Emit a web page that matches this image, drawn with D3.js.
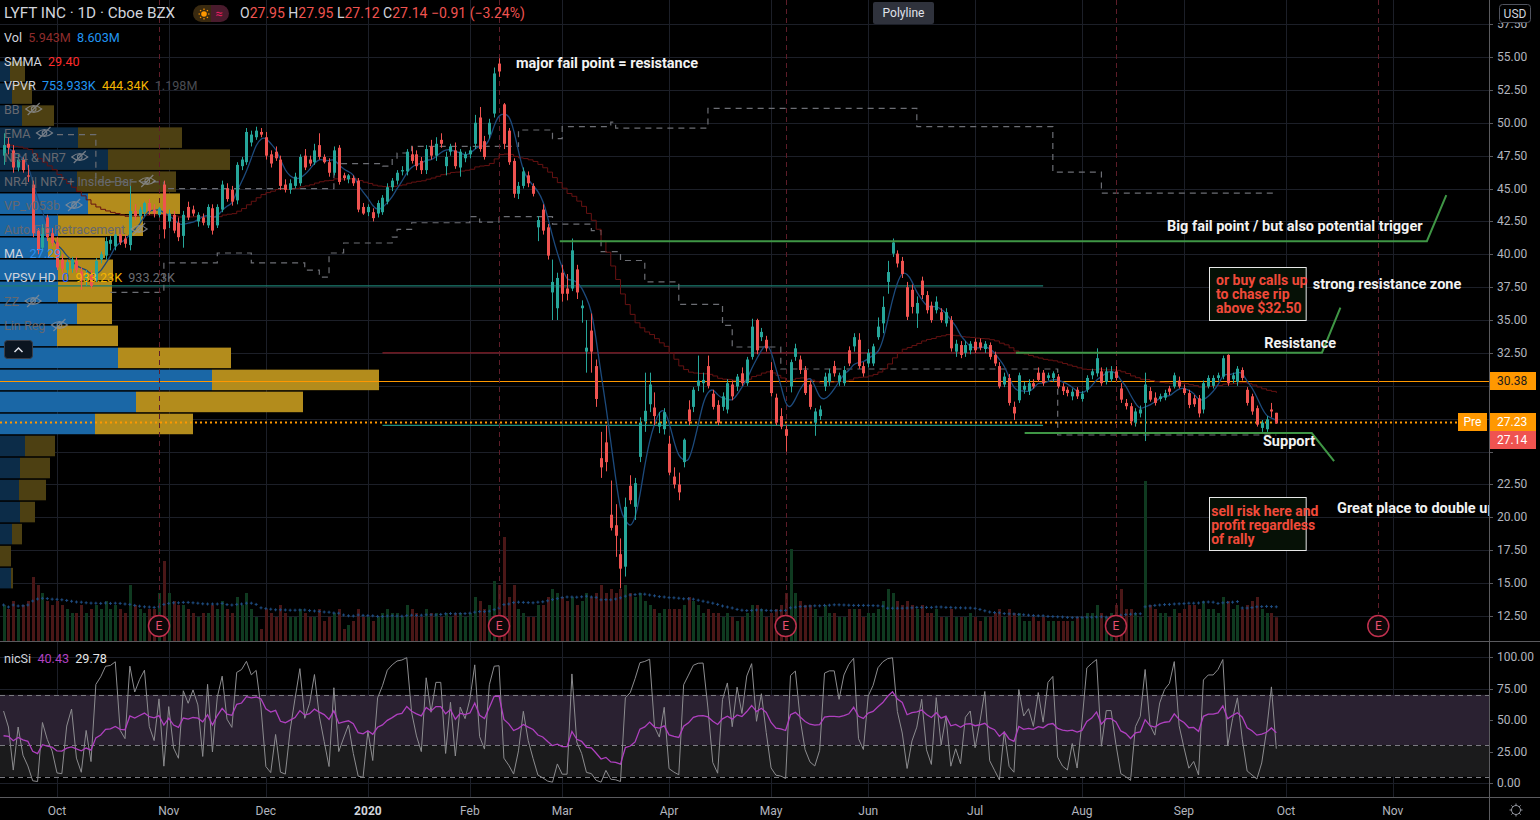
<!DOCTYPE html>
<html><head><meta charset="utf-8">
<script src="https://cdn.jsdelivr.net/npm/d3@7"></script>
<style>
html,body{margin:0;padding:0;background:#000;overflow:hidden}
svg{display:block}
text{font-family:Roboto,"Noto Sans",sans-serif;white-space:pre}
</style></head><body>
<svg id="c" width="1540" height="820"></svg>
<script>
// ---------------- DATA ----------------
// daily candles [open, high, low, close], from 2019-09-16 to 2020-09-29
const ohlc = [
// Sep 2019
[47.5,49.2,46.8,48.3],[48.4,48.9,47.6,48.1],[47.9,48.3,46.2,46.6],[46.6,47.6,46.3,47.2],[47.2,47.4,46.2,46.4],
[46.0,46.8,45.5,45.9],[45.3,45.6,41.3,41.6],[41.8,42.0,40.0,40.3],[40.5,42.3,40.2,42.0],[42.8,43.0,41.0,41.3],[41.6,42.0,40.6,40.85],
// Oct 2019
[40.9,41.3,38.8,39.0],[39.6,40.0,38.6,38.9],[38.8,39.6,38.3,39.4],[38.9,39.8,38.6,39.6],[39.5,39.8,38.6,38.8],
[38.7,39.0,37.3,38.0],[38.1,38.8,37.6,38.4],[38.5,38.8,37.4,37.6],[38.0,39.7,37.9,39.5],[39.6,40.2,39.3,40.0],
[39.9,41.3,39.6,41.0],[40.8,41.4,40.3,41.1],[40.6,41.8,40.3,41.5],[41.5,41.9,40.7,40.9],[41.2,41.5,40.5,40.8],
[40.7,45.2,40.3,43.3],[43.3,43.8,42.6,42.9],[42.9,43.6,42.5,43.4],[43.2,44.0,42.9,43.9],[43.9,44.2,43.0,43.3],
[43.4,43.8,42.8,43.1],[43.0,43.6,42.8,43.5],[45.3,45.6,41.2,41.9],
// Nov 2019
[42.5,43.4,42.0,43.1],[43.0,43.3,41.6,41.8],[42.4,42.8,41.0,41.3],[41.4,43.3,40.5,43.0],[43.6,44.0,42.6,42.8],
[43.4,43.7,42.9,43.1],[42.5,43.2,42.1,43.0],[42.8,43.1,42.2,42.4],[42.2,43.8,42.0,43.6],[43.5,43.8,41.5,41.8],
[42.2,43.8,42.0,43.6],[43.4,45.6,43.2,45.3],[45.0,45.4,44.0,44.2],[44.9,45.2,43.7,44.0],[44.1,47.0,43.8,46.8],
[46.7,47.4,46.4,47.2],[47.0,49.6,46.8,49.3],[48.5,49.4,48.2,49.1],[48.9,49.7,48.7,49.4],[49.3,49.6,48.9,49.1],
// Dec 2019
[48.9,49.3,47.2,47.5],[47.6,47.9,46.6,46.9],[47.8,48.2,47.1,47.3],[47.2,47.5,44.9,45.2],[45.3,45.7,44.7,44.9],
[44.9,45.7,44.6,45.4],[45.2,46.2,45.0,45.9],[45.4,47.6,45.2,47.4],[47.5,48.0,46.4,46.6],[47.2,47.5,46.7,46.9],
[47.0,48.4,46.8,47.9],[48.3,49.2,47.2,47.4],[47.4,47.6,46.9,47.0],[47.0,47.3,45.9,46.2],[46.2,48.2,46.0,47.9],
[48.1,48.3,45.3,45.5],[46.0,46.2,45.6,45.8],[45.7,46.1,45.4,46.0],[45.8,46.0,45.2,45.4],[45.6,45.8,43.2,43.4],
[43.6,43.9,43.0,43.1],
// Jan 2020
[43.2,43.8,42.9,43.6],[43.2,43.5,42.5,42.75],[43.1,44.1,42.8,43.9],[43.2,44.5,43.0,44.3],[44.0,45.4,43.8,45.1],
[45.1,45.8,44.8,45.6],[45.6,46.4,45.3,46.2],[46.3,46.7,46.0,46.4],[46.3,48.0,46.0,47.8],[47.6,48.2,46.9,47.1],
[47.6,47.9,46.4,46.7],[47.1,47.4,46.1,46.4],[46.4,48.3,46.1,48.0],[48.2,48.7,47.2,47.5],[47.5,48.9,47.1,48.4],
[48.7,49.2,48.1,48.4],[46.7,47.8,46.0,47.4],[47.8,48.4,47.5,48.2],[47.9,48.5,46.5,46.7],[46.6,48.0,45.9,47.8],
[47.3,47.8,47.0,47.6],
// Feb 2020
[47.6,48.2,47.3,47.9],[48.4,50.6,48.0,50.0],[50.4,51.2,47.8,48.0],[48.6,49.0,47.2,47.4],[49.1,50.3,48.8,50.0],
[50.7,54.2,50.4,53.75],[54.5,54.9,53.5,53.9],[51.4,51.5,48.0,48.4],[49.4,49.6,46.8,47.0],[47.1,47.3,44.3,44.6],
[44.6,45.5,44.2,45.2],[45.2,46.6,45.0,46.3],[46.0,46.3,45.1,45.4],[45.2,45.4,44.4,44.6],[42.05,42.9,41.0,42.6],
[43.4,43.8,41.5,41.8],[42.05,42.3,39.6,39.9],[37.1,39.6,35.0,37.9],[35.9,38.6,35.0,38.2],
// Mar 2020
[38.6,39.2,36.4,37.0],[37.4,38.5,36.5,37.0],[37.4,41.2,37.2,40.3],[38.85,39.2,36.6,37.1],[35.9,36.5,34.8,36.1],
[32.6,35.0,31.0,32.9],[34.2,35.5,31.0,32.6],[31.5,32.0,28.4,29.0],[24.5,26.5,23.0,23.8],[25.7,27.0,23.5,24.2],
[20.2,22.8,19.0,19.2],[19.4,21.0,17.0,18.6],[17.2,18.4,14.6,16.1],[16.25,21.5,15.5,20.8],[22.4,23.2,21.0,21.3],
[20.8,23.0,19.8,22.6],[24.6,27.6,24.2,27.2],[27.3,31.0,26.5,28.1],[28.6,31.0,28.0,30.1],[28.35,29.5,27.0,27.7],
[26.9,28.0,26.4,27.2],[26.7,28.3,26.3,28.0],
// Apr 2020
[25.6,26.2,23.2,23.4],[23.1,23.8,22.2,22.5],[22.5,23.4,21.3,21.9],[24.2,26.0,23.8,25.9],[28.2,28.9,27.0,27.3],
[28.4,29.9,28.0,29.7],[30.0,32.3,29.6,30.4],[30.2,31.0,29.5,30.45],[31.5,32.3,29.8,30.0],[29.4,29.7,28.2,28.4],
[28.55,28.9,27.0,27.2],[28.4,29.5,28.1,29.2],[28.2,30.5,27.9,30.2],[30.1,30.4,28.9,29.2],[29.95,30.9,29.6,30.7],
[30.95,31.4,30.0,30.2],[30.2,32.2,30.0,32.0],[32.2,35.1,32.0,34.5],[35.0,35.1,32.4,32.7],[33.7,34.4,33.4,34.1],
[33.5,33.8,32.6,32.85],
// May 2020
[31.2,31.8,29.2,29.45],[29.1,29.4,27.0,27.2],[27.7,28.3,26.7,26.9],[26.7,27.0,25.0,26.2],[29.95,32.0,29.5,31.8],
[32.2,33.2,31.9,32.85],[32.0,32.3,30.9,31.2],[31.2,31.5,29.3,29.45],[30.1,30.4,28.2,28.4],[27.2,28.3,26.2,28.05],
[27.7,28.5,27.4,28.2],[29.95,31.0,29.6,30.7],[30.3,31.3,30.0,30.95],[31.5,31.9,30.7,30.95],[30.3,31.0,30.0,30.8],
[30.2,31.5,30.0,31.2],[32.7,33.0,31.5,31.7],[33.0,34.0,32.6,33.7],[33.5,34.0,31.3,31.5],[31.5,31.8,30.7,30.95],
// Jun 2020
[31.7,32.8,31.4,32.5],[31.7,33.2,31.5,33.0],[33.7,35.2,33.5,34.5],[34.75,36.8,34.0,36.0],[37.9,39.5,37.0,38.65],
[40.05,41.2,39.8,40.9],[40.05,40.3,39.0,39.3],[39.5,39.8,38.2,38.5],[37.5,37.9,35.0,35.25],[37.3,37.7,35.5,36.0],
[35.5,36.8,34.4,36.3],[38.0,38.3,36.6,36.9],[36.9,37.2,35.5,35.75],[36.1,36.4,34.8,35.0],[35.75,36.8,35.5,36.4],
[35.6,35.9,34.8,35.0],[34.75,35.9,34.5,35.6],[35.0,35.3,32.6,32.85],[32.6,33.5,32.2,33.2],[33.1,33.4,32.1,32.35],
[32.5,33.4,32.2,33.1],[32.7,33.4,32.4,33.2],
// Jul 2020
[33.35,33.6,32.5,32.7],[33.3,33.6,32.7,32.9],[32.8,33.4,32.5,33.2],[33.1,33.3,32.0,32.2],[32.35,32.6,31.5,31.7],
[31.5,31.8,29.8,29.95],[30.1,31.0,29.9,30.7],[30.6,30.9,28.5,28.7],[28.4,28.8,27.4,27.9],[28.9,31.0,28.7,30.8],
[29.7,30.3,29.4,30.0],[29.6,30.5,29.3,30.2],[30.2,30.5,29.8,29.95],[31.0,31.4,30.3,30.45],[31.0,31.2,30.0,30.2],
[30.6,31.0,30.4,30.8],[30.6,31.1,30.3,30.95],[30.7,30.9,29.8,29.95],[29.95,30.2,29.3,29.6],[29.7,29.9,29.2,29.45],
[29.2,29.8,28.9,29.55],[29.7,29.9,29.0,29.2],
// Aug 2020
[29.0,29.6,28.8,29.4],[29.7,30.8,29.5,30.6],[30.8,31.3,30.5,31.1],[30.95,32.85,30.7,32.1],[31.1,31.4,30.0,30.2],
[30.3,31.4,30.1,31.1],[30.5,31.5,30.3,31.1],[31.1,31.5,30.4,30.6],[29.8,30.2,28.7,28.95],[28.7,29.0,28.2,28.45],
[28.45,28.7,27.0,27.3],[27.2,28.3,26.9,28.05],[27.9,28.5,27.6,28.2],[28.7,31.0,25.8,30.1],[29.6,29.9,28.8,28.95],
[29.1,29.5,28.5,28.7],[29.0,29.4,28.8,29.2],[29.1,29.7,28.9,29.45],[29.8,30.0,29.3,29.55],[29.95,31.0,29.8,30.8],
[30.4,30.7,29.8,29.95],
// Sep 2020
[29.8,30.1,29.3,29.45],[29.45,29.7,28.3,28.55],[29.05,29.3,28.4,28.6],[29.05,29.3,27.6,27.9],[28.2,30.4,27.9,30.2],
[29.95,30.8,29.8,30.6],[30.0,30.8,29.8,30.6],[30.6,31.0,30.4,30.8],[30.7,32.3,30.5,32.1],[32.35,32.4,30.0,30.2],
[30.5,31.0,30.2,30.8],[30.3,31.5,30.0,31.3],[31.2,31.4,30.4,30.6],[29.7,29.9,28.5,28.7],[29.2,29.4,27.8,28.05],
[28.3,28.5,26.9,27.05],[26.8,27.4,26.5,27.2],[26.7,27.7,26.5,27.45],[28.2,28.7,27.6,28.05],[27.95,27.95,27.12,27.14]
];
// daily volume, millions
const volumes = [
9,8,10,8,9,10,16,14,12,10,9,
10,9,8,7,7,9,7,8,9,8,10,8,9,8,7,14,9,8,7,8,8,12,20,
12,10,9,9,8,7,6,7,7,9,8,10,8,7,11,9,12,8,6,3,
8,7,6,9,7,6,6,8,7,6,6,8,5,6,7,8,3,4,5,8,6,
6,5,6,7,8,7,7,6,9,8,7,6,8,7,7,6,7,6,7,7,6,
7,11,10,8,9,15,14,26,11,14,8,7,6,6,9,9,11,13,12,
11,10,11,9,10,12,11,12,14,12,13,12,13,14,12,11,12,10,9,8,7,8,
8,8,8,9,11,10,9,7,8,7,7,6,7,6,5,6,7,9,9,8,6,
7,8,9,12,23,12,10,9,9,8,6,9,7,7,6,6,8,8,8,6,
7,7,8,10,13,12,10,9,10,9,8,9,7,7,8,6,6,8,6,6,6,7,
6,5,6,6,7,8,6,8,7,7,5,5,6,5,6,5,5,5,5,5,5,6,
6,7,7,9,7,6,7,9,13,8,8,7,6,40,9,8,7,7,6,8,7,
8,9,9,8,10,8,8,7,11,10,8,9,8,9,10,11,8,7,7,5.943
];
// visible-range volume profile (24 price rows, bottom to top), thousands of shares
const vpLow = 14.56, vpHigh = 54.75;
const vpUp   = [110,0,120,200,190,200,250,950,1360,2120,1180,570,770,580,580,480,580,880,770,1080,780,220,120,100];
const vpDown = [20,110,100,150,270,300,300,980,1670,1670,1130,610,350,540,550,570,850,920,990,1220,1040,320,200,150];
const vaRows = [7,17];
// grey dashed step levels [barIndex, price]
const upperLevels = [[11,49.1],[19,45.5],[33,45.0],[68,46.9],[78,46.7],[80,47.2],[81,47.7],[84,48.2],[106,49.45],[113,48.8],[115,49.7],[125,50.05],[126,49.6],[145,51.1],[188,49.7],[216,46.25],[226,44.65],[262,44.65]];
const lowerLevels = [[22,37.1],[33,39.35],[44,40.1],[51,39.35],[62,38.8],[65,38.27],[67,40.1],[70,40.86],[80,41.3],[81,41.9],[84,42.4],[96,42.86],[98,42.45],[102,42.86],[113,42.3],[121,41.8],[123,40.2],[127,39.53],[132,37.9],[139,36.2],[148,34.6],[150,32.95],[160,31.28],[217,26.26],[262,26.26]];
// VPSV HD levels
const vpsvVAH = 37.6, vpsvPOC = 32.5, vpsvVAL = 27.0;
const lastClose = 27.14, prePrice = 27.23, hLine = 30.38;
// trend-line drawings [barIndex, price]
const bigFailLine = [[114.5,41.0],[293,41.0],[297,44.5]];
const resistanceLine = [[208.4,32.52],[271.4,32.52],[275.2,35.94]];
const supportLine = [[210.2,26.41],[269.3,26.41],[273.9,24.28]];
const earningsDates = ["2019-10-30","2020-02-11","2020-05-06","2020-08-12","2020-10-28"];
const holidays = ["2019-11-28","2019-12-25","2020-01-01","2020-01-20","2020-02-17","2020-04-10","2020-05-25","2020-07-03","2020-09-07","2020-11-26","2020-12-25"];
const monthLabels = ["Oct","Nov","Dec","2020","Feb","Mar","Apr","May","Jun","Jul","Aug","Sep","Oct","Nov"];
const priceTicks = [12.5,15,17.5,20,22.5,25,27.5,30,32.5,35,37.5,40,42.5,45,47.5,50,52.5,55,57.5];
const rsiTicks = [0,25,50,75,100];
const notes = [
 {t:"major fail point = resistance", i:105.5, p:54.47},
 {t:"Big fail point / but also potential trigger", i:239.5, p:42.15},
 {t:"strong resistance zone", i:269.5, p:37.67},
 {t:"Resistance", i:259.5, p:33.18},
 {t:"Support", i:259.25, p:25.8},
 {t:"Great place to double up", i:274.5, p:20.64}
];
const boxes = [
 {i0:248.2, i1:268.1, p0:39.03, p1:35.0, ti:249.6, lines:["or buy calls up","to chase rip","above $32.50"], lp:[38.05,36.98,35.92]},
 {i0:248.2, i1:268.1, p0:21.55, p1:17.52, ti:248.6, lines:["sell risk here and","profit regardless","of rally"], lp:[20.48,19.42,18.35]}
];

// ---------------- SETUP ----------------
const W=1540,H=820,AX=1489,MB=641,RB=797;
const UP="#26a69a",DN="#ef5350";
const fmt=d3.timeFormat("%Y-%m-%d");
const days=d3.timeDay.range(new Date(2019,8,16),new Date(2020,11,31)).filter(d=>d.getDay()%6!==0&&!holidays.includes(fmt(d)));
const xs=d3.scaleLinear().domain([11,264]).range([57,1286]);
const ys=d3.scaleLinear().domain([12.5,55]).range([616,57]);
const yr=d3.scaleLinear().domain([0,100]).range([783,657]);
const yv=d3.scaleLinear().domain([0,40]).range([MB,481]);
const closes=ohlc.map(d=>d[3]);

const svg=d3.select("#c");
svg.append("rect").attr("width",W).attr("height",H).attr("fill","#000");
const defs=svg.append("defs");
defs.append("clipPath").attr("id","mc").append("rect").attr("x",0).attr("y",0).attr("width",AX).attr("height",MB);
defs.append("clipPath").attr("id","rc").append("rect").attr("x",0).attr("y",MB).attr("width",AX).attr("height",RB-MB);
defs.append("clipPath").attr("id","axc").append("rect").attr("x",AX).attr("y",23).attr("width",W-AX).attr("height",RB-23);

// month ticks
const mt=[];
for(let i=1;i<days.length;i++){ if(days[i].getMonth()!==days[i-1].getMonth()) mt.push(i); }
const monthTicks=mt.map((idx,k)=>({idx,label:monthLabels[k]})).filter(d=>d.label);

// grid
const grid=svg.append("g").attr("stroke","#1c1f28").attr("stroke-width",1);
priceTicks.forEach(p=>grid.append("line").attr("x1",0).attr("x2",AX).attr("y1",Math.round(ys(p))+0.5).attr("y2",Math.round(ys(p))+0.5));
rsiTicks.forEach(v=>grid.append("line").attr("x1",0).attr("x2",AX).attr("y1",Math.round(yr(v))+0.5).attr("y2",Math.round(yr(v))+0.5));
monthTicks.forEach(m=>{const X=Math.round(xs(m.idx))+0.5; grid.append("line").attr("x1",X).attr("x2",X).attr("y1",0).attr("y2",RB);});

// main pane group
const main=svg.append("g").attr("clip-path","url(#mc)");

// volume profile
const rowH=(vpHigh-vpLow)/24;
const vpx=d3.scaleLinear().domain([0,3790]).range([0,379]);
vpUp.forEach((u,r)=>{
  const top=ys(vpLow+(r+1)*rowH)+1, bot=ys(vpLow+r*rowH);
  const inVA=r>=vaRows[0]&&r<=vaRows[1];
  main.append("rect").attr("x",0).attr("y",top).attr("width",vpx(u)).attr("height",bot-top-0.5).attr("fill",inVA?"#1a67a6":"#0c2c48");
  main.append("rect").attr("x",vpx(u)).attr("y",top).attr("width",vpx(vpDown[r])).attr("height",bot-top-0.5).attr("fill",inVA?"#b38c1c":"#4d4012");
});

// volume
main.selectAll("rect.v").data(volumes).join("rect")
 .attr("x",(d,i)=>Math.round(xs(i))-1).attr("y",d=>yv(d)).attr("width",3).attr("height",d=>MB-yv(d))
 .attr("fill",(d,i)=>ohlc[i][3]>=ohlc[i][0]?"#0f3a20":"#4a1717");
const vma=volumes.map((v,i)=>d3.mean(volumes.slice(Math.max(0,i-19),i+1)));
const vg=main.append("g").attr("stroke","#1f4d82").attr("stroke-width",1);
vma.forEach((v,i)=>{const X=xs(i),Y=yv(v);vg.append("line").attr("x1",X-1.5).attr("x2",X+1.5).attr("y1",Y).attr("y2",Y);vg.append("line").attr("x1",X).attr("x2",X).attr("y1",Y-1.5).attr("y2",Y+1.5);});

// VPSV HD lines
main.append("line").attr("x1",0).attr("x2",xs(214)).attr("y1",ys(vpsvVAH)).attr("y2",ys(vpsvVAH)).attr("stroke","#1d7d71").attr("stroke-width",1.2);
main.append("line").attr("x1",xs(78)).attr("x2",xs(214)).attr("y1",ys(vpsvPOC)).attr("y2",ys(vpsvPOC)).attr("stroke","#8a1f28").attr("stroke-width",1.2);
main.append("line").attr("x1",xs(78)).attr("x2",xs(214)).attr("y1",ys(vpsvVAL)).attr("y2",ys(vpsvVAL)).attr("stroke","#1d8e80").attr("stroke-width",1.2);
// orange lines
main.append("line").attr("x1",0).attr("x2",AX).attr("y1",Math.round(ys(hLine))+0.5).attr("y2",Math.round(ys(hLine))+0.5).attr("stroke","#ff9800").attr("stroke-width",1);
main.append("line").attr("x1",0).attr("x2",AX).attr("y1",Math.round(ys(prePrice))+0.5).attr("y2",Math.round(ys(prePrice))+0.5).attr("stroke","#ff9800").attr("stroke-width",2).attr("stroke-dasharray","2,3");

// dashed step levels
const stepLine=d3.line().x(d=>xs(d[0])).y(d=>ys(d[1])).curve(d3.curveStepAfter);
[upperLevels,lowerLevels].forEach(L=>main.append("path").attr("d",stepLine(L)).attr("fill","none").attr("stroke","#6c6e74").attr("stroke-width",1.2).attr("stroke-dasharray","6,5"));

// earnings dashed lines
const eIdx=earningsDates.map(s=>days.findIndex(d=>fmt(d)===s));
eIdx.forEach(i=>{const X=Math.round(xs(i))+0.5; main.append("line").attr("x1",X).attr("x2",X).attr("y1",0).attr("y2",614).attr("stroke","#5e1d29").attr("stroke-width",1).attr("stroke-dasharray","5,4");});

// SMMA 20
const smma=[];closes.forEach((c,i)=>{smma.push(i===0?closes[0]:(smma[i-1]*19+c)/20);});
main.append("path").attr("d",d3.line().x((d,i)=>xs(i)).y(d=>ys(d)).curve(d3.curveStepAfter)(smma)).attr("fill","none").attr("stroke","#661212").attr("stroke-width",1);
// MA 5
const ma=closes.map((c,i)=>d3.mean(closes.slice(Math.max(0,i-4),i+1)));
main.append("path").attr("d",d3.line().x((d,i)=>xs(i)).y(d=>ys(d)).curve(d3.curveBasis)(ma)).attr("fill","none").attr("stroke","#1c4a7c").attr("stroke-width",1.3);

// candles
const cg=main.append("g");
ohlc.forEach((d,i)=>{
  const col=d[3]>=d[0]?UP:DN, X=Math.round(xs(i));
  cg.append("line").attr("x1",X+0.5).attr("x2",X+0.5).attr("y1",ys(d[1])).attr("y2",ys(d[2])).attr("stroke",col).attr("stroke-width",1);
  const t=ys(Math.max(d[0],d[3])), b=ys(Math.min(d[0],d[3]));
  cg.append("rect").attr("x",X-1).attr("y",t).attr("width",3).attr("height",Math.max(1,b-t)).attr("fill",col);
});

// trend line drawings
const tl=d3.line().x(d=>xs(d[0])).y(d=>ys(d[1]));
[bigFailLine,resistanceLine,supportLine].forEach(L=>main.append("path").attr("d",tl(L)).attr("fill","none").attr("stroke","#3f9645").attr("stroke-width",2));

// annotations
notes.forEach(n=>main.append("text").attr("x",xs(n.i)).attr("y",ys(n.p)).attr("dominant-baseline","central")
  .attr("fill","#f2f2f2").attr("font-family","Lato").attr("font-weight","bold").attr("font-size",14.5).text(n.t));
boxes.forEach(b=>{
  main.append("rect").attr("x",Math.round(xs(b.i0))+0.5).attr("y",Math.round(ys(b.p0))+0.5).attr("width",xs(b.i1)-xs(b.i0)).attr("height",ys(b.p1)-ys(b.p0))
   .attr("fill","#061106").attr("stroke","#e8e8e8").attr("stroke-width",1);
  b.lines.forEach((l,k)=>main.append("text").attr("x",xs(b.ti)).attr("y",ys(b.lp[k])).attr("dominant-baseline","central")
   .attr("fill","#f04a3a").attr("font-family","Lato").attr("font-weight","bold").attr("font-size",14).text(l));
});

// earnings markers
eIdx.forEach(i=>{
  const X=xs(i);
  main.append("circle").attr("cx",X).attr("cy",626).attr("r",10.5).attr("fill","#0d0709").attr("stroke","#c0304e").attr("stroke-width",1.5);
  main.append("text").attr("x",X).attr("y",626).attr("text-anchor","middle").attr("dominant-baseline","central").attr("fill","#e8506f").attr("font-size",12).text("E");
});

// ---------------- RSI PANE ----------------
const rp=svg.append("g").attr("clip-path","url(#rc)");
rp.append("rect").attr("x",0).attr("width",AX).attr("y",yr(70)).attr("height",yr(30)-yr(70)).attr("fill","#2a2131");
rp.append("rect").attr("x",0).attr("width",AX).attr("y",yr(30)).attr("height",yr(5)-yr(30)).attr("fill","#1b1b1c");
[70,30,5].forEach(v=>rp.append("line").attr("x1",0).attr("x2",AX).attr("y1",Math.round(yr(v))+0.5).attr("y2",Math.round(yr(v))+0.5).attr("stroke","#7a7a80").attr("stroke-dasharray","5,4"));
function rsi(vals,n,sg,sl){const out=[100-100/(1+sg/sl)];let ag=sg,al=sl;for(let i=1;i<vals.length;i++){const ch=vals[i]-vals[i-1];ag=(ag*(n-1)+Math.max(ch,0))/n;al=(al*(n-1)+Math.max(-ch,0))/n;out.push(100-100/(1+ag/(al||1e-9)));}return out;}
const rFast=rsi(closes,2,0.4,0.3), rSlow=rsi(closes,14,0.45,0.75);
const rl=d3.line().x((d,i)=>xs(i)).y(d=>yr(d));
rp.append("path").attr("d",rl(rFast)).attr("fill","none").attr("stroke","#8c8c8f").attr("stroke-width",1);
rp.append("path").attr("d",rl(rSlow)).attr("fill","none").attr("stroke","#b040c0").attr("stroke-width",1.3);
rp.append("text").attr("x",4).attr("y",658).attr("dominant-baseline","central").attr("font-size",12.6).call(t=>{
  t.append("tspan").attr("fill","#d1d4dc").text("nicSi");
  t.append("tspan").attr("fill","#b040c0").text("  40.43");
  t.append("tspan").attr("fill","#e6e6e6").text("  29.78");
});

// ---------------- AXES ----------------
svg.append("line").attr("x1",0).attr("x2",W).attr("y1",MB+0.5).attr("y2",MB+0.5).attr("stroke","#5a5a5e");
svg.append("line").attr("x1",0).attr("x2",W).attr("y1",RB+0.5).attr("y2",RB+0.5).attr("stroke","#5a5a5e");
svg.append("line").attr("x1",AX+0.5).attr("x2",AX+0.5).attr("y1",0).attr("y2",H).attr("stroke","#5a5a5e");
// price tags (positions, avoiding overlap)
const tagCenters=[ys(hLine), ys(prePrice)];
tagCenters.push(Math.max(ys(lastClose), tagCenters[1]+18));
const ax=svg.append("g").attr("font-size",12).attr("fill","#b2b5be");
const axText=svg.append("g").attr("font-size",12).attr("fill","#b2b5be").attr("clip-path","url(#axc)");
priceTicks.forEach(p=>{const Y=ys(p);
  ax.append("line").attr("x1",AX).attr("x2",AX+4).attr("y1",Math.round(Y)+0.5).attr("y2",Math.round(Y)+0.5).attr("stroke","#5a5a5e");
  if(tagCenters.some(c=>Math.abs(c-Y)<15)) return;
  axText.append("text").attr("x",1497).attr("y",Y).attr("dominant-baseline","central").text(p.toFixed(2));});
rsiTicks.forEach(v=>{const Y=yr(v);
  ax.append("line").attr("x1",AX).attr("x2",AX+4).attr("y1",Math.round(Y)+0.5).attr("y2",Math.round(Y)+0.5).attr("stroke","#5a5a5e");
  ax.append("text").attr("x",1497).attr("y",Y).attr("dominant-baseline","central").text(v.toFixed(2));});
monthTicks.forEach(m=>ax.append("text").attr("x",xs(m.idx)).attr("y",811).attr("text-anchor","middle").attr("dominant-baseline","central")
  .attr("font-weight",m.label==="2020"?"bold":"normal").attr("fill",m.label==="2020"?"#d1d4dc":"#b2b5be").text(m.label));
function tag(Y,bg,fg,label){
  svg.append("rect").attr("x",AX+1).attr("y",Math.round(Y)-9).attr("width",46).attr("height",18).attr("fill",bg);
  svg.append("text").attr("x",1497).attr("y",Y).attr("dominant-baseline","central").attr("font-size",12).attr("fill",fg).text(label);}
tag(tagCenters[0],"#ff9800","#1a1a1a",hLine.toFixed(2));
tag(tagCenters[1],"#ff9800","#ffffff",prePrice.toFixed(2));
tag(tagCenters[2],"#ef5350","#ffffff",lastClose.toFixed(2));
svg.append("rect").attr("x",1458).attr("y",Math.round(tagCenters[1])-9).attr("width",29).attr("height",18).attr("fill","#ff9800");
svg.append("text").attr("x",1472.5).attr("y",tagCenters[1]).attr("text-anchor","middle").attr("dominant-baseline","central").attr("font-size",12).attr("fill","#fff").text("Pre");
// USD box
svg.append("rect").attr("x",1499.5).attr("y",4.5).attr("width",31).attr("height",18).attr("rx",3).attr("fill","#000").attr("stroke","#50535e");
svg.append("text").attr("x",1515).attr("y",13.5).attr("text-anchor","middle").attr("dominant-baseline","central").attr("font-size",12).attr("fill","#d1d4dc").text("USD");
// gear
const gear=svg.append("g").attr("transform","translate(1516,810)").attr("stroke","#9598a1").attr("fill","none");
gear.append("circle").attr("r",4.5);
d3.range(8).forEach(k=>{const a=k*Math.PI/4;gear.append("line").attr("x1",Math.cos(a)*4.5).attr("y1",Math.sin(a)*4.5).attr("x2",Math.cos(a)*6.5).attr("y2",Math.sin(a)*6.5);});

// Polyline tooltip
svg.append("rect").attr("x",873).attr("y",2).attr("width",61).attr("height",22).attr("rx",2).attr("fill","#2f323c");
svg.append("text").attr("x",903.5).attr("y",13).attr("text-anchor","middle").attr("dominant-baseline","central").attr("font-size",12).attr("fill","#e0e3eb").text("Polyline");

// ---------------- LEGEND ----------------
const lg=svg.append("g");
lg.append("text").attr("x",4).attr("y",13).attr("dominant-baseline","central").attr("font-size",15.3).attr("fill","#d1d4dc").text("LYFT INC · 1D · Cboe BZX");
// pill
lg.append("path").attr("d","M201.5,5 h9.5 v17 h-9.5 a8.5,8.5 0 0 1 0,-17z").attr("fill","#3a2a10");
lg.append("path").attr("d","M211,5 h9.5 a8.5,8.5 0 0 1 0,17 h-9.5z").attr("fill","#4a1b2d");
const sun=lg.append("g").attr("transform","translate(204,14)");
sun.append("circle").attr("r",2.8).attr("fill","#ff9800");
d3.range(8).forEach(k=>{const a=k*Math.PI/4;sun.append("line").attr("x1",Math.cos(a)*4).attr("y1",Math.sin(a)*4).attr("x2",Math.cos(a)*5.5).attr("y2",Math.sin(a)*5.5).attr("stroke","#ff9800").attr("stroke-width",1.2);});
lg.append("text").attr("x",219).attr("y",13).attr("text-anchor","middle").attr("dominant-baseline","central").attr("font-size",13).attr("fill","#e91e63").text("≈");
const ohlcT=lg.append("text").attr("x",240).attr("y",13).attr("dominant-baseline","central").attr("font-size",14);
[["O","#d1d4dc"],["27.95 ",DN],["H","#d1d4dc"],["27.95 ",DN],["L","#d1d4dc"],["27.12 ",DN],["C","#d1d4dc"],["27.14 ",DN],["−0.91 (−3.24%)",DN]]
 .forEach(p=>ohlcT.append("tspan").attr("fill",p[1]).text(p[0]));
const rows=[
 {y:37,parts:[["Vol","#d1d4dc"],["5.943M","#8e2c2c"],["8.603M","#2196f3"]]},
 {y:61,parts:[["SMMA","#d1d4dc"],["29.40","#ff2b2b"]]},
 {y:85,parts:[["VPVR","#d1d4dc"],["753.933K","#2196f3"],["444.34K","#f5b400"],["1.198M","#4a4c52"]]},
 {y:109,hidden:"BB"},{y:133,hidden:"EMA"},{y:157,hidden:"NR4 & NR7"},{y:181,hidden:"NR4 || NR7 + Inside Bar"},
 {y:205,hidden:"VP_v053b"},{y:229,hidden:"Auto Fib Retracement"},
 {y:253,parts:[["MA","#d1d4dc"],["27.29","#2f8ff0"]]},
 {y:277,parts:[["VPSV HD","#d1d4dc"],["0","#2962ff"],["933.23K","#f5b400"],["933.23K","#6a6c72"]]},
 {y:301,hidden:"ZZ"},{y:325,hidden:"Lin Reg"}
];
rows.forEach(r=>{
  const t=lg.append("text").attr("x",4).attr("y",r.y).attr("dominant-baseline","central").attr("font-size",12.6);
  if(r.parts){ r.parts.forEach((p,k)=>t.append("tspan").attr("fill",p[1]).text((k?"  ":"")+p[0])); }
  else {
    t.attr("fill","#66686f").text(r.hidden);
    const w=t.node().getComputedTextLength();
    const e=lg.append("g").attr("transform",`translate(${4+w+14},${r.y})`).attr("stroke","#8f9197").attr("fill","none").attr("stroke-width",1.2).attr("opacity",0.8);
    e.append("path").attr("d","M-8,0 Q0,-7 8,0 Q0,7 -8,0z");
    e.append("circle").attr("r",2.3);
    e.append("line").attr("x1",-6).attr("y1",6).attr("x2",6).attr("y2",-6);
  }
});
// collapse button
lg.append("rect").attr("x",4.5).attr("y",340.5).attr("width",28).attr("height",18).attr("rx",3).attr("fill","#0b1520").attr("stroke","#3a3e48");
lg.append("path").attr("d","M14.5,352 l4,-4 l4,4").attr("fill","none").attr("stroke","#e0e3eb").attr("stroke-width",1.5);
</script>
</body></html>
